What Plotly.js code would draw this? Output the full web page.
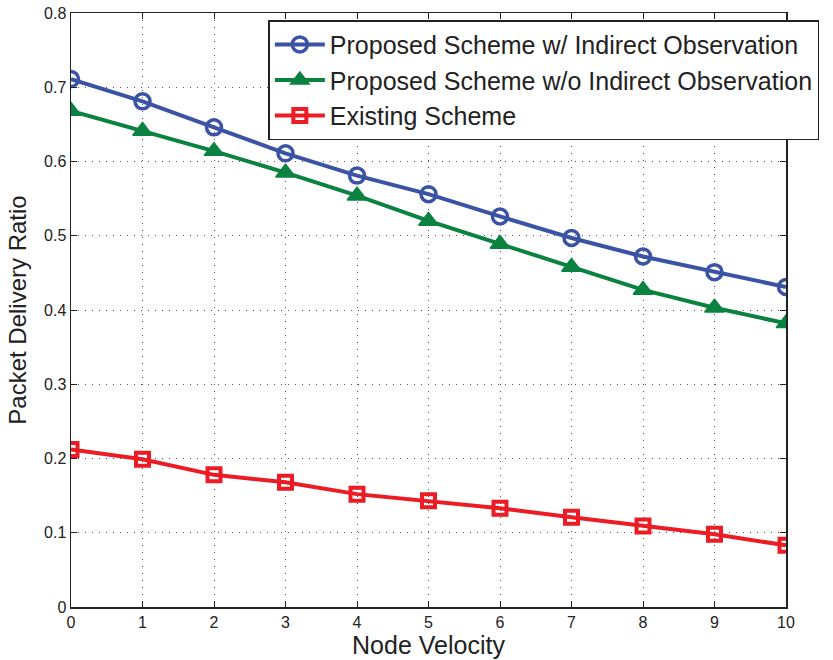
<!DOCTYPE html>
<html>
<head>
<meta charset="utf-8">
<script src="https://cdn.plot.ly/plotly-3.0.1.min.js"></script>
<style>html,body{margin:0;padding:0;background:#fff;}#chart{width:833px;height:660px;}</style>
</head>
<body>
<div id="chart"></div>
<script>
// Node velocity on the x axis
const velocity = [0, 1, 2, 3, 4, 5, 6, 7, 8, 9, 10];
// Packet delivery ratio per scheme
const withIndirect = [0.711, 0.681, 0.646, 0.611, 0.581, 0.556, 0.526, 0.497, 0.472, 0.451, 0.431];
const withoutIndirect = [0.668, 0.641, 0.614, 0.585, 0.554, 0.520, 0.489, 0.458, 0.427, 0.403, 0.382];
const existing = [0.212, 0.199, 0.178, 0.168, 0.152, 0.143, 0.133, 0.121, 0.109, 0.098, 0.083];
const seriesNames = [
  'Proposed Scheme w/ Indirect Observation',
  'Proposed Scheme w/o Indirect Observation',
  'Existing Scheme'
];
const yTicks = [0, 0.1, 0.2, 0.3, 0.4, 0.5, 0.6, 0.7, 0.8];
const yTickText = ['0', '0.1', '0.2', '0.3', '0.4', '0.5', '0.6', '0.7', '0.8'];

const blue = '#3a53a4', green = '#0b8240', red = '#ec1c24';

const traces = [
  {x: velocity, y: withIndirect, name: seriesNames[0], mode: 'lines+markers',
   line: {color: blue, width: 4},
   marker: {symbol: 'circle-open', size: 15, color: blue, line: {width: 3.5, color: blue}}},
  {x: velocity, y: withoutIndirect, name: seriesNames[1], mode: 'lines+markers',
   line: {color: green, width: 4},
   marker: {symbol: 'triangle-up', size: 17, color: green, line: {width: 1.5, color: green}}},
  {x: velocity, y: existing, name: seriesNames[2], mode: 'lines+markers',
   line: {color: red, width: 4},
   marker: {symbol: 'square-open', size: 13, color: red, line: {width: 4, color: red}}}
];

const axisCommon = {
  showline: true, linecolor: '#222', linewidth: 1.5, mirror: 'ticks',
  ticks: 'inside', ticklen: 6, tickcolor: '#222', tickwidth: 1,
  showgrid: true, gridcolor: '#555', griddash: '1px,6px', gridwidth: 1,
  zeroline: false,
  tickfont: {family: 'Liberation Sans, Arial, sans-serif', size: 16, color: '#222'}
};

const layout = {
  width: 833, height: 660,
  margin: {l: 71, r: 47, t: 13, b: 53},
  paper_bgcolor: '#fff', plot_bgcolor: '#fff',
  font: {family: 'Liberation Sans, Arial, sans-serif', color: '#222'},
  xaxis: Object.assign({}, axisCommon, {
    range: [0, 10], tickvals: velocity, ticktext: velocity.map(String),
    title: {text: 'Node Velocity', font: {size: 25, color: '#222'}, standoff: 6}
  }),
  yaxis: Object.assign({}, axisCommon, {
    range: [0, 0.8], tickvals: yTicks, ticktext: yTickText,
    title: {text: 'Packet Delivery Ratio', font: {size: 24, color: '#222'}, standoff: 10}
  }),
  showlegend: true,
  legend: {
    x: 0.276, y: 0.988, xanchor: 'left', yanchor: 'top',
    bgcolor: '#fff', bordercolor: '#222', borderwidth: 1.5,
    font: {size: 25, color: '#222', family: 'Liberation Sans, Arial, sans-serif'},
    tracegroupgap: 0, itemwidth: 50
  }
};

Plotly.newPlot('chart', traces, layout, {displayModeBar: false, staticPlot: true});
</script>
</body>
</html>
